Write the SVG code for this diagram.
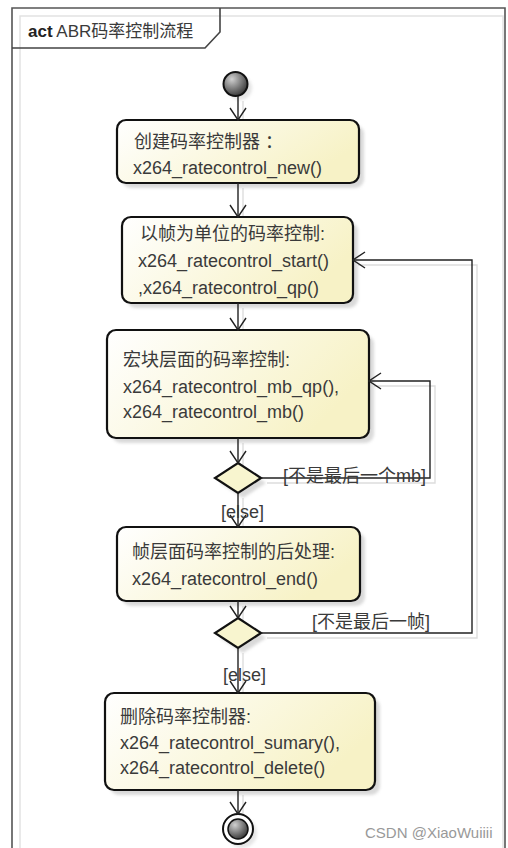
<svg xmlns="http://www.w3.org/2000/svg" width="508" height="848" viewBox="0 0 508 848">
<style>
text{font-family:"Liberation Sans","Noto Sans CJK SC",sans-serif;font-size:18px;fill:#3a3a3a}
.box{stroke:#111;stroke-width:2.2;fill:url(#yg)}
.sh{fill:#bbb;opacity:.55;filter:url(#bl)}
.con{fill:none;stroke:#222;stroke-width:1.4}
.cs{fill:none;stroke:#ddd;stroke-width:1.4}
.dia{stroke:#111;stroke-width:2.2;fill:#f8f5cf}
</style>
<defs>
<linearGradient id="yg" x1="0" y1="0" x2="1" y2="0.4">
<stop offset="0" stop-color="#ffffff"/><stop offset="1" stop-color="#f7f2c6"/>
</linearGradient>
<radialGradient id="gg" cx="0.35" cy="0.3" r="0.8">
<stop offset="0" stop-color="#d0d0d0"/><stop offset="1" stop-color="#2a2a2a"/>
</radialGradient>
<filter id="bl" x="-20%" y="-20%" width="140%" height="140%"><feGaussianBlur stdDeviation="1.5"/></filter>
<marker id="ah" viewBox="0 0 14 18" refX="13" refY="9" markerWidth="14" markerHeight="18" markerUnits="userSpaceOnUse" orient="auto">
<path d="M1,1 L13,9 L1,17" fill="none" stroke="#222" stroke-width="1.4"/>
</marker>
</defs>
<rect width="508" height="848" fill="#fff"/>
<g id="frame">
<path d="M20,848 V16 H503 V848" fill="none" stroke="#e2e2e2" stroke-width="1.5"/>
<path d="M12,848 V8 H505 V848" fill="none" stroke="#555" stroke-width="1.6"/>
<path d="M12,48 H205 L220,32 V8" fill="none" stroke="#444" stroke-width="1.6"/>
<text x="28" y="37" style="font-size:17px"><tspan font-weight="bold" fill="#222">act</tspan> ABR码率控制流程</text>
</g>
<g id="connector-shadows">
<path class="cs" d="M243,101 V125 M243,188 V222 M243,308 V335 M243,443 V468 M243,498 V532 M243,606 V623 M243,653 V698 M243,795 V817"/>
<path class="cs" d="M267,483 H435 V386 H374"/>
<path class="cs" d="M267,638 H477 V265 H358"/>
</g>
<g id="start"><circle cx="240" cy="88" r="12" fill="#ccc" opacity=".5" filter="url(#bl)"/><circle cx="235.5" cy="84" r="12" fill="url(#gg)" stroke="#111" stroke-width="2"/></g>
<g id="n1">
<rect class="sh" x="122" y="125" width="242" height="63" rx="9"/>
<rect class="box" x="117" y="120" width="242" height="63" rx="9"/>
<text x="134" y="148">创建码率控制器 ：</text>
<text x="133" y="174">x264_ratecontrol_new()</text>
</g>
<g id="n2">
<rect class="sh" x="127" y="222" width="231" height="86" rx="9"/>
<rect class="box" x="122" y="217" width="231" height="86" rx="9"/>
<text x="140" y="240">以帧为单位的码率控制:</text>
<text x="138" y="267">x264_ratecontrol_start()</text>
<text x="138" y="294">,x264_ratecontrol_qp()</text>
</g>
<g id="n3">
<rect class="sh" x="112" y="335" width="262" height="108" rx="9"/>
<rect class="box" x="107" y="330" width="262" height="108" rx="9"/>
<text x="123" y="366">宏块层面的码率控制:</text>
<text x="123" y="393">x264_ratecontrol_mb_qp(),</text>
<text x="123" y="418">x264_ratecontrol_mb()</text>
</g>
<g id="d1">
<path class="sh" d="M243,468 L266,483 L243,498 L220,483 Z"/>
<path class="dia" d="M238,463 L261,478 L238,493 L215,478 Z"/>
</g>
<g id="n4">
<rect class="sh" x="122" y="532" width="243" height="74" rx="9"/>
<rect class="box" x="117" y="527" width="243" height="74" rx="9"/>
<text x="132" y="558">帧层面码率控制的后处理:</text>
<text x="132" y="585">x264_ratecontrol_end()</text>
</g>
<g id="d2">
<path class="sh" d="M243,623 L266,638 L243,653 L220,638 Z"/>
<path class="dia" d="M238,618 L261,633 L238,648 L215,633 Z"/>
</g>
<g id="n5">
<rect class="sh" x="110" y="698" width="270" height="97" rx="9"/>
<rect class="box" x="105" y="693" width="270" height="97" rx="9"/>
<text x="120" y="723">删除码率控制器:</text>
<text x="120" y="749">x264_ratecontrol_sumary(),</text>
<text x="120" y="774">x264_ratecontrol_delete()</text>
</g>
<g id="end">
<circle cx="242" cy="833" r="15" fill="#ccc" opacity=".5" filter="url(#bl)"/>
<circle cx="238" cy="829" r="15" fill="#fff" stroke="#111" stroke-width="2"/>
<circle cx="238" cy="829" r="10" fill="url(#gg)" stroke="#111" stroke-width="1.5"/>
</g>
<g id="connectors">
<path class="con" marker-end="url(#ah)" d="M238,96 V120"/>
<path class="con" marker-end="url(#ah)" d="M238,183 V217"/>
<path class="con" marker-end="url(#ah)" d="M238,303 V330"/>
<path class="con" marker-end="url(#ah)" d="M238,438 V463"/>
<path class="con" marker-end="url(#ah)" d="M261,478 H430 V381 H369"/>
<path class="con" marker-end="url(#ah)" d="M238,493 V527"/>
<path class="con" marker-end="url(#ah)" d="M238,601 V618"/>
<path class="con" marker-end="url(#ah)" d="M261,633 H472 V260 H353"/>
<path class="con" marker-end="url(#ah)" d="M238,648 V693"/>
<path class="con" marker-end="url(#ah)" d="M238,790 V814"/>
<text x="283" y="482">[不是最后一个mb]</text>
<text x="221" y="518">[else]</text>
<text x="312" y="628">[不是最后一帧]</text>
<text x="223" y="681">[else]</text>
</g>
<text x="365" y="838" style="font-size:15px;fill:#999">CSDN @XiaoWuiiii</text>
</svg>
